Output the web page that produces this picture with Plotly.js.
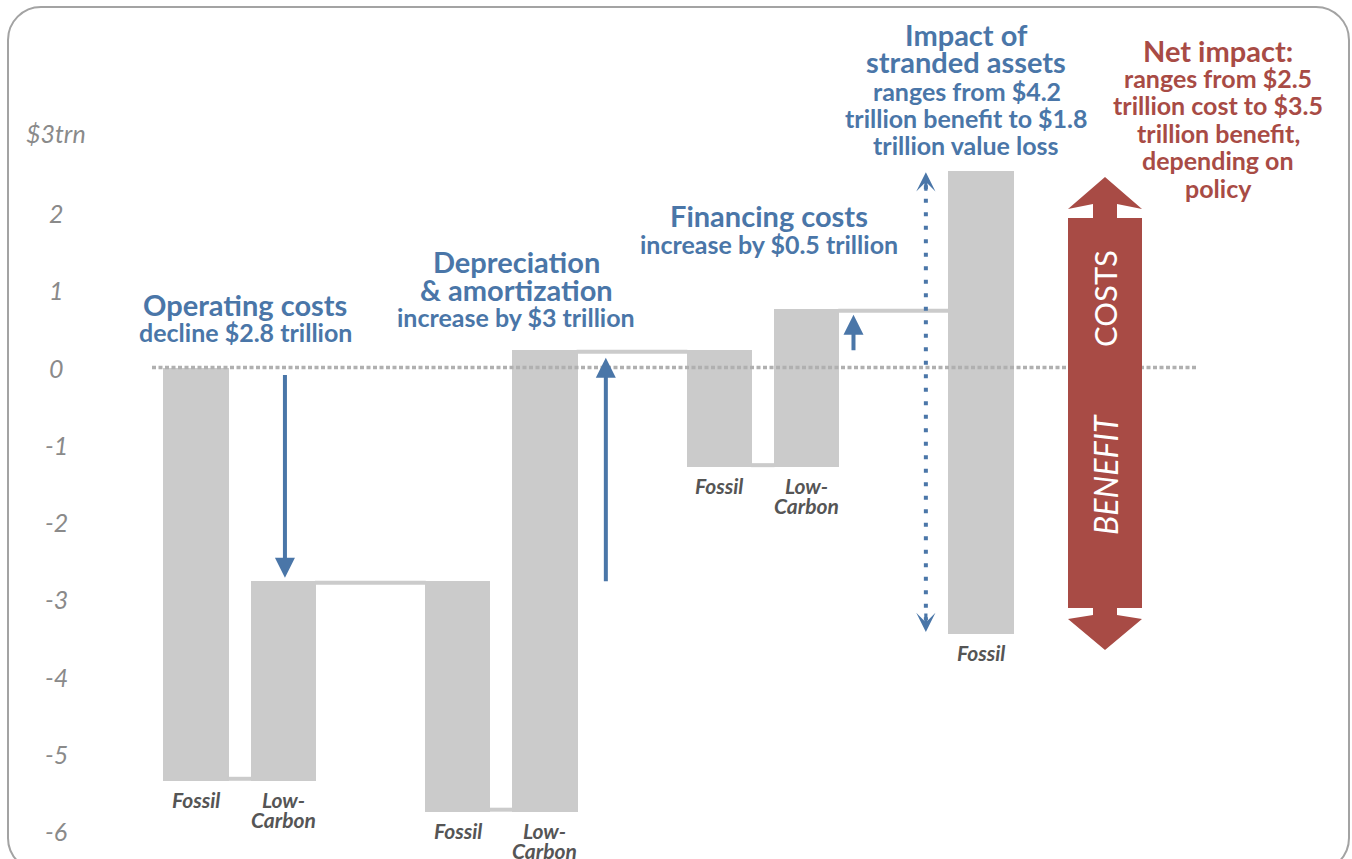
<!DOCTYPE html>
<html><head><meta charset="utf-8">
<script src="https://cdn.plot.ly/plotly-3.0.1.min.js"></script>
<style>
html,body{margin:0;padding:0;background:#fff;overflow:hidden;width:1352px;height:859px;}
#frame{position:absolute;left:7px;top:6px;width:1343px;height:866px;border:2px solid #a3a3a3;border-radius:34px;box-sizing:border-box;}
#chart{position:absolute;left:0;top:0;width:1352px;height:859px;}
</style></head><body>
<div id="frame"></div><div id="chart"></div>
<script>
// ---------- data ----------
const categories = ['Fossil', 'Low-Carbon', 'Fossil', 'Low-Carbon', 'Fossil', 'Low-Carbon', 'Fossil'];
const barPos     = [0, 1, 3, 4, 6, 7, 9];
const barTop     = [0, -2.76, -2.76, 0.23, 0.23, 0.76, 2.54];
const barBottom  = [-5.35, -5.35, -5.75, -5.75, -1.29, -1.29, -3.45];
const tickVals   = [3, 2, 1, 0, -1, -2, -3, -4, -5, -6];
const tickText   = ['$3trn', '2', '1', '0', '-1', '-2', '-3', '-4', '-5', '-6'];
const bottomLinks = [[0, 1], [2, 3], [4, 5]];   // pairs joined at their bottoms
const topLinks    = [[1, 2], [3, 4], [5, 6]];   // pairs joined at left bar's top

// ---------- layout geometry ----------
const W = 1352, H = 859, M = {l: 152, r: 154, t: 105, b: 5};
const PW = W - M.l - M.r, PH = H - M.t - M.b;
const ppx = 87.2, ppy = 77.25, x0px = 196, y0px = 367.5;
const xRange = [(M.l - x0px) / ppx, (W - M.r - x0px) / ppx];
const yRange = [-(H - M.b - y0px) / ppy, (y0px - M.t) / ppy];
const barWidth = 0.75;
const pxY = p => p / ppy;                 // pixel distance -> y units
const paperX = p => (p - M.l) / PW;
const paperY = p => (H - M.b - p) / PH;

const BLUE = '#4a76a8', RED = '#a84b45', GRAY = '#cbcbcb';
const FONT = 'Lato, "Open Sans", sans-serif';

// ---------- traces ----------
const bars = {
  type: 'bar', x: barPos, base: barBottom,
  y: barTop.map((t, i) => t - barBottom[i]),
  width: barWidth, marker: {color: GRAY, line: {width: 0}},
  hoverinfo: 'skip', showlegend: false
};
const cx = [], cy = [];
const lh = pxY(2);
bottomLinks.forEach(([a, b]) => {
  cx.push(barPos[a] + barWidth / 2 - 0.01, barPos[b] - barWidth / 2 + 0.01, null);
  cy.push(barBottom[a] + lh, barBottom[a] + lh, null);
});
topLinks.forEach(([a, b]) => {
  cx.push(barPos[a] + barWidth / 2 - 0.01, barPos[b] - barWidth / 2 + 0.01, null);
  cy.push(barTop[a] - lh, barTop[a] - lh, null);
});
const connectors = {
  type: 'scatter', mode: 'lines', x: cx, y: cy,
  line: {color: GRAY, width: 4}, hoverinfo: 'skip', showlegend: false
};
const strandX = 8.37;
const dotted = {
  type: 'scatter', mode: 'lines',
  x: [strandX, strandX], y: [barTop[6] - pxY(14), barBottom[6] + pxY(14)],
  line: {color: BLUE, width: 4, dash: '4px,9.5px'},
  hoverinfo: 'skip', showlegend: false
};

// ---------- annotations ----------
const ann = [];
// y tick labels
tickVals.forEach((v, i) => ann.push({
  xref: 'paper', yref: 'y', x: paperX(56), y: v === 3 ? 3.035 : v,
  text: tickText[i], showarrow: false, xanchor: 'center', yanchor: 'middle',
  font: {family: FONT, size: 25, color: '#8a8a8a', style: 'italic'}
}));
// category labels under bars
categories.forEach((c, i) => {
  const lines = c.includes('-') ? [c.split('-')[0] + '-', c.split('-')[1]] : [c];
  lines.forEach((ln, k) => ann.push({
    xref: 'x', yref: 'y', x: barPos[i], y: barBottom[i], yshift: -(4 + 20 * k),
    text: ln, showarrow: false, xanchor: 'center', yanchor: 'top',
    font: {family: FONT, size: 21, color: '#555555', weight: 'bold', style: 'italic'}
  }));
});
// headline texts, one annotation per line
function txt(text, xpx, ypx, size, color) {
  ann.push({xref: 'paper', yref: 'paper', x: paperX(xpx), y: paperY(ypx), text: text,
    showarrow: false, xanchor: 'center', yanchor: 'middle', align: 'center',
    font: {family: FONT, size: size, color: color, weight: 'bold'}});
}
const HS = 29, BS = 25;
txt('Operating costs', 245, 304, HS, BLUE);
txt('decline $2.8 trillion', 245, 332, BS, BLUE);
txt('Depreciation', 516, 261, HS, BLUE);
txt('&amp; amortization', 516, 289, HS, BLUE);
txt('increase by $3 trillion', 516, 317, BS, BLUE);
txt('Financing costs', 769, 215, HS, BLUE);
txt('increase by $0.5 trillion', 769, 244, BS, BLUE);
txt('Impact of', 966, 35, HS, BLUE);
txt('stranded assets', 966, 62, HS, BLUE);
txt('ranges from $4.2', 967, 91, BS, BLUE);
txt('trillion benefit to $1.8', 966, 118, BS, BLUE);
txt('trillion value loss', 966, 145, BS, BLUE);
txt('Net impact:', 1218, 50, HS, RED);
txt('ranges from $2.5', 1218, 78, BS, RED);
txt('trillion cost to $3.5', 1218, 105, BS, RED);
txt('trillion benefit,', 1218, 133, BS, RED);
txt('depending on', 1218, 160, BS, RED);
txt('policy', 1218, 188, BS, RED);
// red arrow labels
ann.push({xref: 'paper', yref: 'paper', x: paperX(1105), y: paperY(299), text: 'COSTS',
  showarrow: false, textangle: -90, xanchor: 'center', yanchor: 'middle',
  font: {family: FONT, size: 31, color: '#ffffff'}});
ann.push({xref: 'paper', yref: 'paper', x: paperX(1105), y: paperY(475), text: 'BENEFIT',
  showarrow: false, textangle: -90, xanchor: 'center', yanchor: 'middle',
  font: {family: FONT, size: 32, color: '#ffffff', style: 'italic'}});
// solid blue arrows (tail -> tip)
const arrows = [
  {x: 1.02, tail: barTop[0] - pxY(6), tip: barTop[1] + pxY(3)},
  {x: 4.70, tail: barTop[2] - pxY(2), tip: barTop[3] - pxY(8)},
  {x: 7.54, tail: barTop[4] - pxY(2), tip: barTop[5] - pxY(6)}
];
arrows.forEach(a => ann.push({
  xref: 'x', yref: 'y', axref: 'x', ayref: 'y', x: a.x, y: a.tip, ax: a.x, ay: a.tail,
  text: '', showarrow: true, arrowhead: 2, arrowsize: 1, arrowwidth: 4, arrowcolor: BLUE, standoff: 0
}));
// heads of the dotted stranded-assets arrow
ann.push({xref: 'x', yref: 'y', x: strandX, y: barTop[6] - pxY(1), ax: 0, ay: 20,
  text: '', showarrow: true, arrowhead: 3, arrowsize: 1, arrowwidth: 3.2, arrowcolor: BLUE, standoff: 0});
ann.push({xref: 'x', yref: 'y', x: strandX, y: barBottom[6] + pxY(2), ax: 0, ay: -20,
  text: '', showarrow: true, arrowhead: 3, arrowsize: 1, arrowwidth: 3.2, arrowcolor: BLUE, standoff: 0});

// ---------- shapes ----------
const redPts = [[1105,177],[1142,209],[1117,204],[1117,218],[1142,218],[1142,608],[1117,608],[1117,615],
  [1142,619],[1105,650],[1068,619],[1093,615],[1093,608],[1068,608],[1068,218],[1093,218],[1093,204],[1068,209]];
const redPath = 'M' + redPts.map(p => paperX(p[0]).toFixed(5) + ',' + paperY(p[1]).toFixed(5)).join('L') + 'Z';
const shapes = [
  {type: 'line', xref: 'paper', yref: 'y', x0: 0, x1: 1, y0: 0, y1: 0, layer: 'above',
   line: {color: '#b0b0b0', width: 3.5, dash: '4px,2.5px'}},
  {type: 'path', xref: 'paper', yref: 'paper', path: redPath, fillcolor: RED, line: {width: 0}, layer: 'above'}
];

const layout = {
  width: W, height: H, margin: M,
  paper_bgcolor: 'rgba(0,0,0,0)', plot_bgcolor: 'rgba(0,0,0,0)',
  showlegend: false, bargap: 0,
  xaxis: {range: xRange, visible: false, fixedrange: true},
  yaxis: {range: yRange, showticklabels: false, showgrid: false, zeroline: false, showline: false, ticks: '', fixedrange: true},
  annotations: ann, shapes: shapes,
  font: {family: FONT}
};
Plotly.newPlot('chart', [connectors, bars, dotted], layout, {displayModeBar: false, staticPlot: true});
</script>
</body></html>
